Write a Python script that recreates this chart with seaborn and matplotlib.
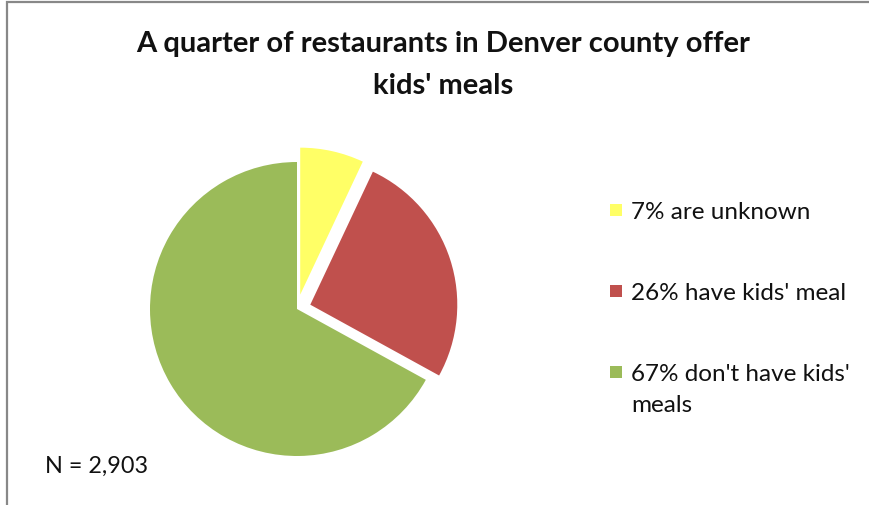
import matplotlib
matplotlib.use("Agg")
import matplotlib.pyplot as plt
import matplotlib.patches as mpatches
import seaborn as sns

# --- Data ---
labels = ["7% are unknown", "26% have kids' meal", "67% don't have kids'\nmeals"]
shares = [7, 26, 67]
colors = ["#FFFF66", "#C0504D", "#9BBB59"]
explode = [0.1, 0.095, 0.0]
title = "A quarter of restaurants in Denver county offer\nkids' meals"
note = "N = 2,903"

sns.set_theme(style="white")
plt.rcParams["font.family"] = ["Lato", "DejaVu Sans"]

W, H = 870, 506
fig = plt.figure(figsize=(W / 100, H / 100), dpi=100)

# pie axes: centre at (297, 310) px, radius ~147 px
cx, cy, half = 297, 310, 160
ax = fig.add_axes([(cx - half) / W, 1 - (cy + half) / H, 2 * half / W, 2 * half / H])
ax.pie(
    shares,
    colors=colors,
    explode=explode,
    startangle=90,
    counterclock=False,
    wedgeprops={"linewidth": 0},
)
lim = half / 147
ax.set_xlim(-lim, lim)
ax.set_ylim(-lim, lim)
ax.set_axis_off()

fig.suptitle(title, x=443 / W, y=1 - 31 / H, fontsize=21, fontweight="bold",
             linespacing=1.75, va="top", color="#111111")

# legend, built by hand so the square lines up with the first text line
for i, (lab, col) in enumerate(zip(labels, colors)):
    ymid = 211 + i * 81
    fig.add_artist(mpatches.Rectangle((610 / W, 1 - (ymid + 6) / H), 12 / W, 12 / H,
                                      transform=fig.transFigure, color=col, lw=0))
    for k, line in enumerate(lab.split("\n")):
        fig.text(631 / W, 1 - (ymid + 8 + k * 31) / H, line, fontsize=17.5,
                 va="baseline", ha="left", color="#111111")

fig.text(45 / W, 1 - 466 / H, note, fontsize=16.8, va="center", ha="left", color="#111111")

# chart frame (left and top edges visible)
fig.add_artist(mpatches.Rectangle((7 / W, -0.1), 1.1, 1 - 3 / H + 0.1,
                                  transform=fig.transFigure, fill=False,
                                  edgecolor="#888888", lw=1.6))

fig.savefig("out.png", dpi=100)
